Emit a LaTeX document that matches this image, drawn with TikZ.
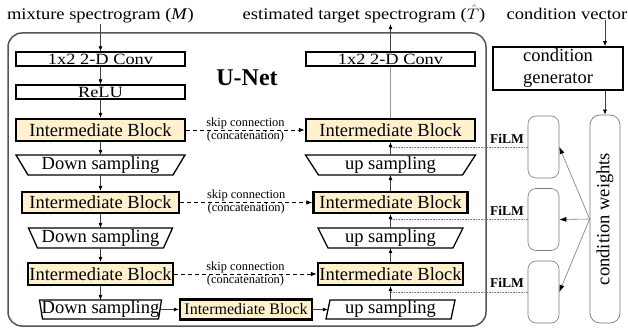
\documentclass[tikz,border=0pt]{standalone}
\usepackage{fontspec}
\setmainfont{Liberation Serif}
\usepackage{graphicx}
\usetikzlibrary{arrows.meta}
\definecolor{ibfill}{RGB}{255,241,206}
\definecolor{framegray}{RGB}{85,85,85}
\definecolor{lgray}{RGB}{120,120,120}
\begin{document}
\begin{tikzpicture}[x=1pt,y=-1pt,
  big/.style={font=\fontsize{18.5}{22}\selectfont},
  rbox/.style={draw=black, line width=1.3pt, inner sep=0pt, text height=10.2pt, text depth=0pt,
    font=\fontsize{18.4}{20}\selectfont},
  ibbox/.style={draw=black, line width=2.3pt, fill=ibfill, inner sep=0pt, text height=12.4pt, text depth=0pt,
    font=\fontsize{18.5}{20}\selectfont},
  tlabel/.style={inner sep=0pt, minimum height=20pt, font=\fontsize{18.5}{20}\selectfont},
  tshape/.style={draw=black, line width=1.3pt, line join=miter},
  arr/.style={draw=black!75, line width=0.6pt, -{Latex[length=5pt,width=4pt,color=black]}},
  garr/.style={draw=lgray, line width=0.6pt, -{Latex[length=7pt,width=5pt,color=black]}},
  skipline/.style={draw=black, line width=0.9pt, dash pattern=on 4pt off 3pt, -{Latex[length=6pt,width=4.5pt]}},
  skiplbl/.style={align=center, inner sep=0pt, font=\fontsize{12.4}{13}\selectfont},
  filmbox/.style={draw=lgray, line width=0.6pt, rounded corners=8pt, minimum width=31pt, minimum height=62pt, inner sep=0pt},
  filmlbl/.style={inner sep=0pt, font=\fontsize{13.5}{14}\selectfont\bfseries},
  dotline/.style={draw=lgray, line width=0.6pt, densely dotted},
  frame/.style={draw=framegray, line width=1.5pt, rounded corners=14pt}
]
\useasboundingbox (0,0) rectangle (628,328);

% top labels
\node[big, anchor=base, inner sep=1pt] (mix) at (100.5,19.5) {\scalebox{1}[0.88]{mixture spectrogram (\textit{M})}};
\node[big, anchor=base, inner sep=1pt] (est) at (364,19.5) {\scalebox{1}[0.88]{estimated target spectrogram ($\hat{T}$)}};
\node[big, anchor=base east, inner sep=0pt] (cvec) at (627.5,19.5) {\scalebox{1}[0.88]{condition vector}};

% U-Net frame
\draw[frame] (8,33) rectangle (486,326);
\node[font=\fontsize{24}{26}\selectfont\bfseries, inner sep=0pt] (unet) at (247,78) {U-Net};

% encoder
\node[rbox, minimum width=169pt, minimum height=14pt] (conv1) at (100.5,59) {\scalebox{1}[0.85]{1x2 2-D Conv}};
\node[rbox, minimum width=169pt, minimum height=14pt] (relu) at (100.5,92) {\scalebox{1}[0.85]{ReLU}};
\node[ibbox, minimum width=169pt, minimum height=22pt] (ib1) at (100.5,130) {Intermediate Block};
\draw[tshape] (16,155) -- (185,155) -- (173,175) -- (28,175) -- cycle;
\node[tlabel, minimum width=157pt] (ds1) at (100.5,165) {Down sampling};
\node[ibbox, minimum width=157pt, minimum height=21pt] (ib2) at (100.5,202.5) {Intermediate Block};
\draw[tshape] (28.5,228) -- (172.5,228) -- (163.5,248) -- (37.5,248) -- cycle;
\node[tlabel, minimum width=135pt] (ds2) at (100.5,238) {Down sampling};
\node[ibbox, minimum width=145pt, minimum height=22pt] (ib3) at (100.5,274) {Intermediate Block};
\draw[tshape] (39.5,300) -- (161.5,300) -- (158.5,319) -- (42.5,319) -- cycle;
\node[tlabel, minimum width=119pt, minimum height=19pt] (ds3) at (100.5,309.5) {Down sampling};

% bottleneck
\node[ibbox, minimum width=132pt, minimum height=20pt, font=\fontsize{16}{18}\selectfont, text height=10.8pt] (ib7) at (246,309.5) {Intermediate Block};

% decoder
\node[rbox, minimum width=169pt, minimum height=14pt] (conv2) at (390.5,59) {\scalebox{1}[0.85]{1x2 2-D Conv}};
\node[ibbox, minimum width=169pt, minimum height=22pt] (ib4) at (390.5,130) {Intermediate Block};
\draw[tshape] (305.5,155) -- (475.5,155) -- (462.5,175) -- (318.5,175) -- cycle;
\node[tlabel, minimum width=157pt] (us1) at (390.5,165) {up sampling};
\node[ibbox, minimum width=154pt, minimum height=21pt] (ib5) at (390.5,202.5) {Intermediate Block};
\draw[tshape] (318,228) -- (463,228) -- (453,248) -- (328,248) -- cycle;
\node[tlabel, minimum width=135pt] (us2) at (390.5,238) {up sampling};
\node[ibbox, minimum width=145pt, minimum height=22pt] (ib6) at (390.5,274) {Intermediate Block};
\draw[tshape] (330,300) -- (455,300) -- (451,319) -- (326,319) -- cycle;
\node[tlabel, minimum width=125pt, minimum height=19pt] (us3) at (390.5,309.5) {up sampling};

% encoder arrows
\draw[arr] (mix.south) -- (conv1.north);
\draw[arr] (conv1.south) -- (relu.north);
\draw[arr] (relu.south) -- (ib1.north);
\draw[arr] (ib1.south) -- (ds1.north);
\draw[arr] (ds1.south) -- (ib2.north);
\draw[arr] (ib2.south) -- (ds2.north);
\draw[arr] (ds2.south) -- (ib3.north);
\draw[arr] (ib3.south) -- (ds3.north);
\draw[arr] (ds3.east) -- (ds3.east -| ib7.west);
\draw[arr] (ib7.east) -- (ib7.east -| us3.west);

% decoder arrows
\draw[arr] (us3.north) -- (ib6.south);
\draw[arr] (ib6.north) -- (us2.south);
\draw[arr] (us2.north) -- (ib5.south);
\draw[arr] (ib5.north) -- (us1.south);
\draw[arr] (us1.north) -- (ib4.south);
\draw[draw=black!40, line width=0.7pt] (ib4.north) -- (conv2.south);
\draw[arr] (conv2.north) -- (conv2.north |- est.south);

% skip connections
\draw[skipline] (ib1.east) -- node[skiplbl] (s1) {skip connection\\(concatenation)} (ib4.west);
\draw[skipline] (ib2.east) -- node[skiplbl] (s2) {skip connection\\(concatenation)} (ib5.west);
\draw[skipline] (ib3.east) -- node[skiplbl] (s3) {skip connection\\(concatenation)} (ib6.west);

% condition side
\node[draw=black, line width=1.6pt, minimum width=130pt, minimum height=43pt, align=center, inner sep=0pt,
  font=\fontsize{18.5}{22}\selectfont] (cg) at (558,68.5) {condition\\generator};
\node[draw=lgray, line width=0.7pt, rounded corners=10pt, rotate=90, minimum width=208pt, minimum height=30pt,
  inner sep=0pt, big] (cw) at (605,219) {condition weights};
\draw[arr] (cw.east |- cvec.south) -- (cw.east |- cg.north);
\draw[arr] (cw.east |- cg.south) -- (cw.east);

\node[filmbox] (film1) at (543.5,147) {};
\node[filmbox] (film2) at (543.5,219.5) {};
\node[filmbox] (film3) at (543.5,292) {};
\node[filmlbl] (fl1) at (507,139) {FiLM};
\node[filmlbl] (fl2) at (507,211) {FiLM};
\node[filmlbl] (fl3) at (507,283) {FiLM};

\draw[garr] (cw.north) -- (film1.east);
\draw[garr] (cw.north) -- (film2.east);
\draw[garr] (cw.north) -- (film3.east);

\draw[dotline] (film1.west) -- (film1.west -| ib4.south);
\draw[dotline] (film2.west) -- (film2.west -| ib5.south);
\draw[dotline] (film3.west) -- (film3.west -| ib6.south);
\end{tikzpicture}
\end{document}
